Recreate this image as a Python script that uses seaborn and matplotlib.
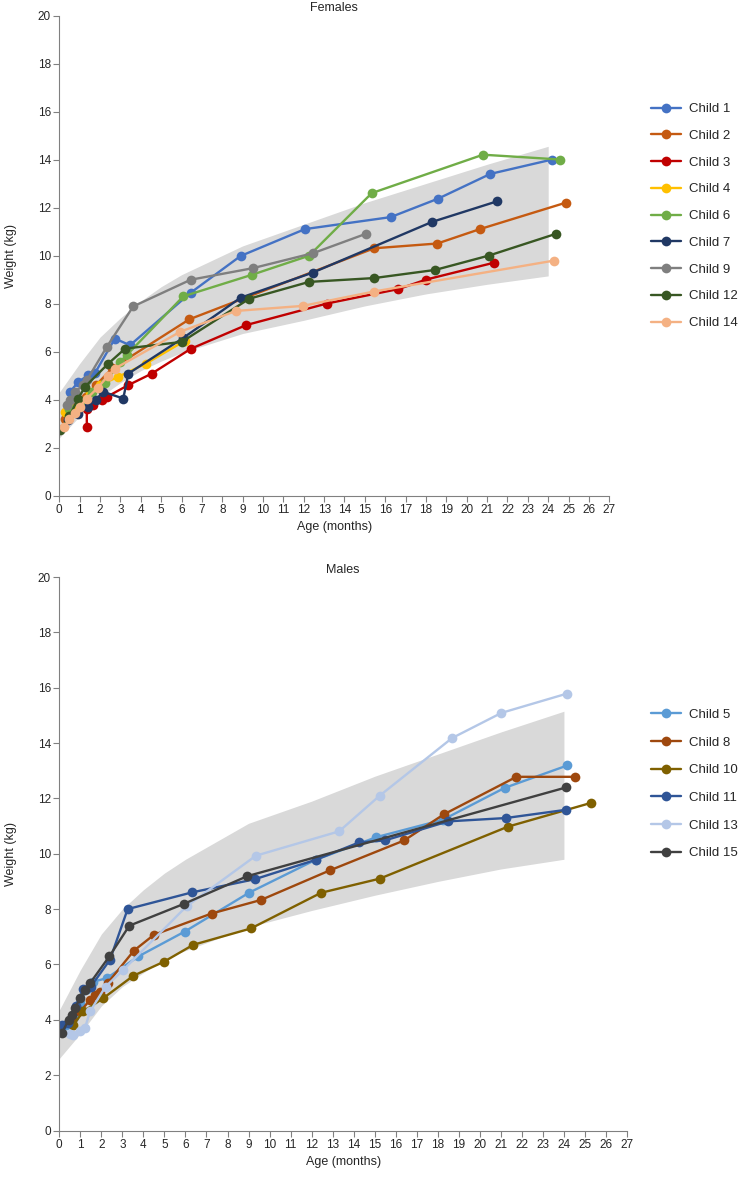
"""
Infant growth curves (weight vs age) for the girls and boys in the cohort,
drawn over the WHO reference band. Saves out.png.
"""

import numpy as np
import pandas as pd
import matplotlib
matplotlib.use("Agg")
import matplotlib.pyplot as plt
import seaborn as sns

# ---------------- reference band ----------------
band_age = [0, 1, 2, 3, 4, 5, 6, 9, 12, 15, 18, 21, 24]
f_band_lo = [2.4, 3.3, 4.1, 4.7, 5.2, 5.6, 5.95, 6.75, 7.3, 7.9, 8.4, 8.8, 9.15]
f_band_hi = [4.3, 5.5, 6.6, 7.4, 8.1, 8.7, 9.2, 10.4, 11.3, 12.2, 13.0, 13.8, 14.55]
m_band_lo = [2.6, 3.5, 4.5, 5.2, 5.7, 6.2, 6.5, 7.35, 7.95, 8.5, 9.0, 9.45, 9.8]
m_band_hi = [4.35, 5.8, 7.1, 8.0, 8.7, 9.3, 9.8, 11.1, 11.9, 12.8, 13.6, 14.4, 15.15]

# ---------------- females ----------------
c1_age = [0.53, 0.93, 1.42, 1.75, 2.73, 3.47, 6.45, 8.9, 12.06, 16.27, 18.6, 21.16, 24.2]
c1_wt = [4.32, 4.73, 5.01, 5.1, 6.54, 6.26, 8.45, 9.98, 11.1, 11.6, 12.37, 13.4, 14.0]
c2_age = [0.3, 0.8, 1.3, 1.8, 2.6, 6.38, 15.45, 18.56, 20.65, 24.86]
c2_wt = [3.2, 3.7, 4.1, 4.6, 5.3, 7.34, 10.3, 10.5, 11.1, 12.2]
c3_age = [1.35, 1.35, 1.67, 2.08, 2.33, 3.39, 4.54, 6.45, 9.17, 13.14, 16.64, 18.02, 21.34]
c3_wt = [2.86, 3.62, 3.76, 3.97, 4.11, 4.6, 5.08, 6.11, 7.1, 8.0, 8.6, 9.0, 9.7]
c4_age = [0.28, 0.6, 1.0, 1.5, 2.0, 2.9, 4.26, 6.17]
c4_wt = [3.48, 3.6, 3.9, 4.3, 4.6, 4.95, 5.5, 6.45]
c6_age = [0.5, 1.0, 1.6, 2.24, 2.98, 3.31, 6.09, 9.47, 12.26, 15.34, 20.8, 24.58]
c6_wt = [3.6, 3.9, 4.3, 4.67, 5.57, 5.85, 8.3, 9.2, 9.99, 12.6, 14.2, 14.0]
c7_age = [0.44, 0.9, 1.42, 1.8, 2.16, 3.14, 3.39, 6.09, 8.9, 12.45, 18.3, 21.5]
c7_wt = [3.14, 3.4, 3.69, 4.0, 4.32, 4.04, 5.08, 6.57, 8.24, 9.29, 11.4, 12.26]
c9_age = [0.36, 0.52, 0.77, 1.18, 1.35, 2.33, 3.63, 6.45, 9.49, 12.47, 15.04]
c9_wt = [3.76, 3.96, 4.32, 4.6, 4.8, 6.19, 7.88, 8.99, 9.47, 10.1, 10.9]
c12_age = [0.03, 0.5, 0.93, 1.26, 2.41, 3.23, 6.01, 9.33, 12.26, 15.46, 18.46, 21.1, 24.37]
c12_wt = [2.72, 3.3, 4.04, 4.53, 5.5, 6.12, 6.4, 8.2, 8.9, 9.06, 9.4, 10.0, 10.9]
c14_age = [0.25, 0.5, 0.77, 1.0, 1.35, 1.9, 2.4, 2.73, 5.93, 8.67, 11.95, 15.45, 24.3]
c14_wt = [2.86, 3.2, 3.42, 3.7, 4.04, 4.5, 5.0, 5.29, 6.82, 7.69, 7.9, 8.5, 9.79]

# ---------------- males ----------------
c5_age = [0.3, 0.7, 1.0, 1.3, 1.62, 2.25, 3.76, 5.97, 9.02, 12.19, 15.08, 18.25, 21.18, 24.16]
c5_wt = [3.8, 4.1, 4.6, 5.1, 5.38, 5.5, 6.29, 7.19, 8.59, 9.78, 10.6, 11.23, 12.38, 13.19]
c8_age = [0.6, 1.0, 1.46, 1.7, 1.93, 2.3, 3.55, 4.5, 7.24, 9.59, 12.87, 16.4, 18.28, 21.74, 24.54]
c8_wt = [4.0, 4.3, 4.72, 4.9, 5.02, 5.33, 6.5, 7.07, 7.84, 8.33, 9.4, 10.48, 11.42, 12.78, 12.78]
c10_age = [0.67, 1.14, 2.09, 3.52, 4.98, 6.37, 9.11, 12.45, 15.24, 21.34, 25.3]
c10_wt = [3.82, 4.3, 4.78, 5.59, 6.1, 6.71, 7.3, 8.59, 9.1, 10.98, 11.84]
c11_age = [0.11, 0.4, 0.8, 1.14, 1.5, 2.41, 3.25, 6.29, 9.3, 12.19, 14.26, 15.48, 18.49, 21.23, 24.12]
c11_wt = [3.82, 3.9, 4.5, 5.1, 5.2, 6.17, 8.0, 8.6, 9.08, 9.78, 10.41, 10.48, 11.17, 11.29, 11.59]
c13_age = [0.5, 0.67, 1.0, 1.22, 1.46, 2.2, 3.04, 6.05, 9.35, 13.31, 15.24, 18.68, 21.03, 24.16]
c13_wt = [3.5, 3.45, 3.6, 3.7, 4.3, 5.2, 5.8, 8.1, 9.93, 10.81, 12.1, 14.18, 15.09, 15.79]
c15_age = [0.11, 0.45, 0.59, 0.75, 0.98, 1.22, 1.46, 2.38, 3.33, 5.93, 8.94, 24.12]
c15_wt = [3.51, 4.0, 4.18, 4.42, 4.78, 5.08, 5.32, 6.29, 7.4, 8.19, 9.19, 12.4]

female_series = {
    "Child 1": (c1_age, c1_wt), "Child 2": (c2_age, c2_wt), "Child 3": (c3_age, c3_wt),
    "Child 4": (c4_age, c4_wt), "Child 6": (c6_age, c6_wt), "Child 7": (c7_age, c7_wt),
    "Child 9": (c9_age, c9_wt), "Child 12": (c12_age, c12_wt), "Child 14": (c14_age, c14_wt),
}
male_series = {
    "Child 5": (c5_age, c5_wt), "Child 8": (c8_age, c8_wt), "Child 10": (c10_age, c10_wt),
    "Child 11": (c11_age, c11_wt), "Child 13": (c13_age, c13_wt), "Child 15": (c15_age, c15_wt),
}

female_colors = {
    "Child 1": "#4472C4", "Child 2": "#C55A11", "Child 3": "#C00000",
    "Child 4": "#FFC000", "Child 6": "#70AD47", "Child 7": "#203864",
    "Child 9": "#7F7F7F", "Child 12": "#385723", "Child 14": "#F4B183",
}
male_colors = {
    "Child 5": "#5B9BD5", "Child 8": "#9E480E", "Child 10": "#7F6000",
    "Child 11": "#2F5597", "Child 13": "#B4C7E7", "Child 15": "#404040",
}


def to_long(series):
    rows = []
    for name, (ages, wts) in series.items():
        for a, w in zip(ages, wts):
            rows.append({"child": name, "age": a, "weight": w})
    return pd.DataFrame(rows)


sns.set_style("ticks")
plt.rcParams["font.family"] = ["Liberation Sans", "DejaVu Sans"]

W, H = 738, 1178
fig = plt.figure(figsize=(W / 100, H / 100), dpi=100)

# axes boxes in pixels: left, right, top, bottom
panels = [
    ("Females", female_series, female_colors, f_band_lo, f_band_hi, (59.3, 609.3, 15.5, 495.5), 110, 27.3),
    ("Males", male_series, male_colors, m_band_lo, m_band_hi, (59.3, 627.0, 577.0, 1130.5), 715.7, 28.2),
]

for title, series, colors, lo, hi, (l, r, t, b), leg_y, leg_step in panels:
    ax = fig.add_axes([l / W, 1 - b / H, (r - l) / W, (b - t) / H])
    ax.fill_between(band_age, lo, hi, color="#D9D9D9", linewidth=0, zorder=0)

    df = to_long(series)
    sns.lineplot(
        data=df, x="age", y="weight", hue="child", hue_order=list(series),
        palette=colors, marker="o", markersize=7, markeredgewidth=0,
        linewidth=1.7, sort=False, estimator=None, units="child", ax=ax,
    )

    ax.set_xlim(0, 27)
    ax.set_ylim(0, 20)
    ax.set_xticks(np.arange(0, 28, 1))
    ax.set_yticks(np.arange(0, 21, 2))
    ax.tick_params(labelsize=8.5, length=4, width=0.8, color="#808080", pad=2)
    for side in ["top", "right"]:
        ax.spines[side].set_visible(False)
    for side in ["left", "bottom"]:
        ax.spines[side].set_color("#808080")
        ax.spines[side].set_linewidth(0.8)

    ax.set_title(title, fontsize=9, pad=3)
    ax.set_xlabel("Age (months)", fontsize=9, labelpad=4)
    ax.set_ylabel("Weight (kg)", fontsize=9, labelpad=15)

    sns.move_legend(
        ax, "upper left",
        bbox_to_anchor=(651 / W, 1 - (leg_y - 7) / H), bbox_transform=fig.transFigure,
        frameon=False, title=None, fontsize=9.5,
        handlelength=2.3, handletextpad=0.55,
        labelspacing=(leg_step - 13) / 13, borderpad=0, borderaxespad=0,
    )

fig.savefig("out.png", dpi=100)
plt.close(fig)
